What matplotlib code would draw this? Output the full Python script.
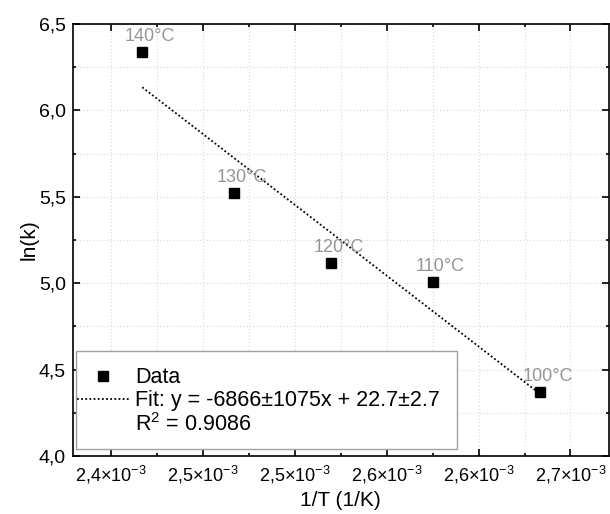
import numpy as np
import matplotlib
matplotlib.use("Agg")
from matplotlib import pyplot as plt
from matplotlib.ticker import MultipleLocator, FuncFormatter
from matplotlib.lines import Line2D
from matplotlib.patches import Rectangle

plt.rcParams['font.family'] = ['Liberation Sans', 'DejaVu Sans']
plt.rcParams['mathtext.fontset'] = 'custom'
plt.rcParams['mathtext.rm'] = 'Liberation Sans'
plt.rcParams['mathtext.it'] = 'Liberation Sans:italic'

# data
temps_c = [140, 130, 120, 110, 100]
ln_k = [6.338, 5.52, 5.115, 5.009, 4.369]
point_labels = ["140°C", "130°C", "120°C", "110°C", "100°C"]
fit_label = "Fit: y = -6866±1075x + 22.7±2.7"
r2_label = "R$^2$ = 0.9086"

inv_t = 1.0 / (np.array(temps_c) + 273.15)

fig = plt.figure(figsize=(6.1, 5.14), dpi=100)
ax = fig.add_axes([0.1192, 0.1128, 0.8788, 0.8405])

# linear fit drawn between first and last point
slope, intercept = np.polyfit(inv_t, ln_k, 1)
xf = np.array([inv_t.min(), inv_t.max()])
ax.plot(xf, slope * xf + intercept, color='black', linestyle=(0, (1, 1.3)),
        linewidth=1.3, zorder=3)

ax.plot(inv_t, ln_k, linestyle='none', marker='s', markersize=7.5,
        color='black', zorder=4)

for x, y, lab in zip(inv_t, ln_k, point_labels):
    ax.annotate(lab, (x, y), xytext=(8, 11), textcoords='offset pixels',
                ha='center', va='baseline', color='#969696', fontsize=13,
                zorder=5)

ax.set_xlim(2.375e-3, 2.725e-3)
ax.set_ylim(4.0, 6.5)

ax.xaxis.set_major_locator(MultipleLocator(0.06e-3))
ax.xaxis.set_minor_locator(MultipleLocator(0.03e-3))
ax.yaxis.set_major_locator(MultipleLocator(0.5))
ax.yaxis.set_minor_locator(MultipleLocator(0.25))

ax.xaxis.set_major_formatter(FuncFormatter(
    lambda v, p: f"{v * 1e3:.1f}".replace('.', ',') + r"$\times$10$^{-3}$"))
ax.yaxis.set_major_formatter(FuncFormatter(
    lambda v, p: f"{v:.1f}".replace('.', ',')))

ax.tick_params(which='both', direction='in', top=True, right=True, width=1.2)
ax.tick_params(axis='x', labelsize=13, pad=6)
ax.tick_params(axis='y', labelsize=14, pad=5)
ax.tick_params(which='major', length=5)
ax.tick_params(which='minor', length=2)

for s in ax.spines.values():
    s.set_linewidth(1.2)

ax.grid(True, which='both', color='#d9d9d9', linestyle=(0, (1, 2)),
        linewidth=0.8)
ax.set_axisbelow(True)

ax.set_xlabel("1/T (1/K)", fontsize=15, labelpad=3)
ax.set_ylabel("ln(k)", fontsize=15, labelpad=0)

# legend box (drawn separately so its size matches the original)
ax.add_patch(Rectangle((0.0062, 0.0162), 0.7104, 0.2269,
                       transform=ax.transAxes, facecolor='white',
                       edgecolor='#a0a0a0', linewidth=1.0, zorder=6))

handles = [
    Line2D([], [], linestyle='none', marker='s', markersize=7.5, color='black'),
    Line2D([], [], color='black', linestyle=(0, (1, 1.3)), linewidth=1.3),
    Line2D([], [], linestyle='none', marker=None),
]
leg = ax.legend(handles, ["Data", fit_label, r2_label], loc='center left',
                bbox_to_anchor=(0.008, 0.126), borderaxespad=0,
                fontsize=15.5, handlelength=2.4, handletextpad=0.3,
                labelspacing=0.08, borderpad=0, frameon=False)
leg.set_zorder(7)

fig.savefig("out.png", dpi=100)
